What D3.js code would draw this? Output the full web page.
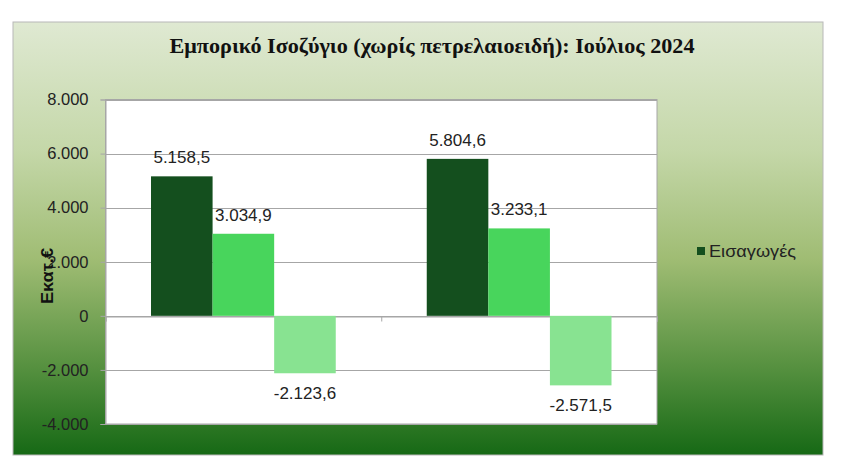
<!DOCTYPE html>
<html>
<head>
<meta charset="utf-8">
<script src="https://cdn.jsdelivr.net/npm/d3@7"></script>
<style>
  html, body { margin: 0; padding: 0; background: #ffffff; }
  svg { display: block; }
</style>
</head>
<body>
<svg id="chart" width="847" height="470"></svg>
<script>
// ---- data ----
const title = "Εμπορικό Ισοζύγιο (χωρίς πετρελαιοειδή): Ιούλιος 2024";
const yTitle = "Εκατ.€";
const categories = ["Ιούλιος 2023", "Ιούλιος 2024"];
const seriesNames = ["Εισαγωγές", "Εξαγωγές", "Ισοζύγιο"];
const imports = [5158.5, 5804.6];
const exports = [3034.9, 3233.1];
const balance = [-2123.6, -2571.5];
const yTicks = [-4000, -2000, 0, 2000, 4000, 6000, 8000];
const legendNames = ["Εισαγωγές"];
const seriesColors = ["#144f1e", "#48d55c", "#88e391"];

const seriesValues = [imports, exports, balance];

// ---- layout ----
const svg = d3.select("#chart");
const box = { x: 13, y: 22, w: 810, h: 433 };
const plot = { left: 105.5, right: 657, top: 99.5, bottom: 424 };

const locale = d3.formatLocale({ decimal: ",", thousands: ".", grouping: [3], currency: ["", "€"], minus: "-" });
const fmtTick = locale.format(",.0f");
const fmtVal = locale.format(",.1f");

// background gradient
const defs = svg.append("defs");
const grad = defs.append("linearGradient").attr("id", "bg").attr("x1", 0).attr("y1", 0).attr("x2", 0).attr("y2", 1);
[[0, "#dfe9d2"], [0.3, "#c4d7a8"], [0.55, "#9fbc73"], [0.8, "#55903f"], [1, "#166915"]].forEach(([o, c]) =>
  grad.append("stop").attr("offset", o).attr("stop-color", c));

svg.append("rect").attr("x", box.x).attr("y", box.y).attr("width", box.w).attr("height", box.h)
  .attr("fill", "url(#bg)").attr("stroke", "#b8b8b8").attr("stroke-width", 1);

// title
svg.append("text").attr("x", 432).attr("y", 53)
  .attr("text-anchor", "middle")
  .attr("font-family", "'Liberation Serif', 'Times New Roman', serif")
  .attr("font-weight", "bold").attr("font-size", 21)
  .attr("textLength", 525).attr("lengthAdjust", "spacingAndGlyphs")
  .attr("fill", "#111").text(title);

// scales
const y = d3.scaleLinear().domain([yTicks[0], yTicks[yTicks.length - 1]]).range([plot.bottom, plot.top]);
const x0 = d3.scaleBand().domain(categories).range([plot.left, plot.right]).paddingInner(0.33).paddingOuter(0.165);
const x1 = d3.scaleBand().domain(seriesNames).range([0, x0.bandwidth()]).padding(0);

// plot area
svg.append("rect").attr("x", plot.left).attr("y", plot.top)
  .attr("width", plot.right - plot.left).attr("height", plot.bottom - plot.top)
  .attr("fill", "#ffffff");

// gridlines
svg.append("g").selectAll("line").data(yTicks).join("line")
  .attr("x1", plot.left).attr("x2", plot.right)
  .attr("y1", d => Math.round(y(d)) + 0.5).attr("y2", d => Math.round(y(d)) + 0.5)
  .attr("stroke", "#a6a6a6").attr("stroke-width", 1);

// plot border
svg.append("rect").attr("x", plot.left).attr("y", plot.top)
  .attr("width", plot.right - plot.left).attr("height", plot.bottom - plot.top)
  .attr("fill", "none").attr("stroke", "#a6a6a6").attr("stroke-width", 1);

// y axis
const yAxis = d3.axisLeft(y).tickValues(yTicks).tickFormat(fmtTick).tickSize(5).tickPadding(12);
const gy = svg.append("g").attr("transform", `translate(${plot.left},0)`).call(yAxis);
gy.select(".domain").attr("stroke", "#a6a6a6");
gy.selectAll(".tick line").attr("stroke", "#a6a6a6");
gy.selectAll(".tick text").attr("font-family", "'Liberation Sans', Arial, sans-serif")
  .attr("font-size", 16.5).attr("fill", "#222");

// x axis at zero (no labels)
const xAxis = d3.axisBottom(d3.scaleLinear().domain([0, categories.length]).range([plot.left, plot.right]))
  .tickValues(d3.range(categories.length + 1)).tickFormat("").tickSize(5);
const gx = svg.append("g").attr("transform", `translate(0,${Math.round(y(0)) + 0.5})`).call(xAxis);
gx.select(".domain").attr("stroke", "#a6a6a6");
gx.selectAll(".tick line").attr("stroke", "#a6a6a6");

// bars
const groups = svg.append("g").selectAll("g").data(categories).join("g")
  .attr("transform", d => `translate(${x0(d)},0)`);
groups.selectAll("rect")
  .data((c, i) => seriesNames.map((s, j) => ({ s, j, v: seriesValues[j][i] })))
  .join("rect")
  .attr("x", d => x1(d.s)).attr("width", x1.bandwidth())
  .attr("y", d => y(Math.max(0, d.v))).attr("height", d => Math.abs(y(d.v) - y(0)))
  .attr("fill", d => seriesColors[d.j]);

// data labels
groups.selectAll("text")
  .data((c, i) => seriesNames.map((s, j) => ({ s, j, v: seriesValues[j][i] })))
  .join("text")
  .attr("x", d => x1(d.s) + x1.bandwidth() / 2)
  .attr("y", d => d.v >= 0 ? y(d.v) - 13 : y(d.v) + 26)
  .attr("text-anchor", "middle")
  .attr("font-family", "'Liberation Sans', Arial, sans-serif")
  .attr("font-size", 17).attr("fill", "#222")
  .text(d => fmtVal(d.v));

// y axis title
svg.append("text")
  .attr("transform", `translate(53,276) rotate(-90)`)
  .attr("text-anchor", "middle")
  .attr("font-family", "'Liberation Sans', Arial, sans-serif")
  .attr("font-weight", "bold").attr("font-size", 16).attr("fill", "#111")
  .attr("textLength", 56).attr("lengthAdjust", "spacingAndGlyphs")
  .text(yTitle);

// legend
const lg = svg.append("g").attr("transform", "translate(697,247)");
lg.selectAll("rect").data(legendNames).join("rect")
  .attr("x", 0).attr("y", (d, i) => i * 20).attr("width", 8).attr("height", 8)
  .attr("fill", (d, i) => seriesColors[i]);
lg.selectAll("text").data(legendNames).join("text")
  .attr("x", 12).attr("y", (d, i) => i * 20 + 10)
  .attr("font-family", "'Liberation Sans', Arial, sans-serif")
  .attr("font-size", 16).attr("fill", "#222")
  .attr("textLength", 87).attr("lengthAdjust", "spacingAndGlyphs")
  .text(d => d);
</script>
</body>
</html>
